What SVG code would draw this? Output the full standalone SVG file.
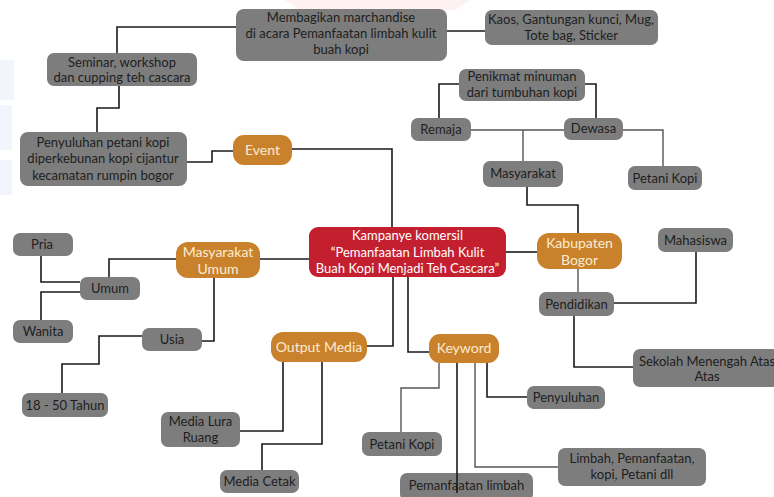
<svg xmlns="http://www.w3.org/2000/svg" width="774" height="497" viewBox="0 0 774 497">
<style>
.g{fill:#7d7d7d}
.o{fill:#c9822b}
.r{fill:#c41f2f}
text{font-family:Lato,"Liberation Sans",sans-serif;font-size:13px;text-anchor:middle}
.tg{fill:#1e1e1e}
.to{fill:#fbecd2;font-size:14px}
.tr{fill:#ffffff}
.c{fill:none;stroke:#1a1a1a;stroke-width:1.6}
.c2{fill:none;stroke:#555;stroke-width:1.4}
</style>
<rect width="774" height="497" fill="#ffffff"/>
<g id="bg" opacity="0.5">
<path d="M285,0 H470 L455,10 H300 Z" fill="#fbe3e3"/>
<rect x="0" y="60" width="14" height="40" fill="#e6eefb"/>
<rect x="0" y="105" width="12" height="45" fill="#e6eefb"/>
<rect x="0" y="160" width="12" height="35" fill="#e6eefb"/>
</g>
<g id="connectors">
<path class="c" d="M117,53 V27 H236"/>
<path class="c" d="M447,31 H485"/>
<path class="c" d="M119,86 V108 H97 V132"/>
<path class="c" d="M187,162 H212 V151 H233"/>
<path class="c" d="M292,149 H392 V227"/>
<path class="c" d="M459,84 H439 V118"/>
<path class="c" d="M585,84 H596 V118"/>
<path class="c2" d="M471,130 H564"/>
<path class="c2" d="M523,130 V161"/>
<path class="c2" d="M623,130 H663 V166"/>
<path class="c" d="M527,187 V205 H578 V233"/>
<path class="c" d="M506,252 H537"/>
<path class="c2" d="M578,269 V292"/>
<path class="c" d="M614,303 H696 V252"/>
<path class="c" d="M574,316 V367 H633"/>
<path class="c" d="M260,259 H309"/>
<path class="c" d="M176,259 H109 V277"/>
<path class="c" d="M41,256 V282 H80"/>
<path class="c" d="M41,320 V292 H80"/>
<path class="c" d="M214,278 V341 H202"/>
<path class="c" d="M142,336 H99 V364 H62 V393"/>
<path class="c" d="M393,277 V346 H367"/>
<path class="c" d="M408,277 V352 H429"/>
<path class="c" d="M283,362 V431 H240"/>
<path class="c" d="M322,362 V444 H262 V470"/>
<path class="c2" d="M439,363 V388 H401 V432"/>
<path class="c2" d="M475,363 V467 H558"/>
<path class="c" d="M487,363 V397 H527"/>
</g>
<g id="membagikan"><rect class="g" x="236" y="9" width="211" height="52" rx="8"/><text class="tg" x="341" y="22">Membagikan marchandise</text><text class="tg" x="341" y="38">di acara Pemanfaatan limbah kulit</text><text class="tg" x="341" y="54">buah kopi</text></g>
<g id="kaos"><rect class="g" x="485" y="10" width="173" height="35" rx="7"/><text class="tg" x="571" y="24">Kaos, Gantungan kunci, Mug,</text><text class="tg" x="571" y="40">Tote bag, Sticker</text></g>
<g id="seminar"><rect class="g" x="47" y="53" width="150" height="33" rx="7"/><text class="tg" x="122" y="67">Seminar, workshop</text><text class="tg" x="122" y="82">dan cupping teh cascara</text></g>
<g id="penyuluhan-petani"><rect class="g" x="20" y="132" width="167" height="54" rx="8"/><text class="tg" x="103" y="147">Penyuluhan petani kopi</text><text class="tg" x="103" y="163">diperkebunan kopi cijantur</text><text class="tg" x="103" y="180">kecamatan rumpin bogor</text></g>
<g id="event"><rect class="o" x="233" y="135" width="59" height="30" rx="11"/><text class="to" x="262.5" y="155">Event</text></g>
<g id="penikmat"><rect class="g" x="459" y="69" width="126" height="32" rx="7"/><text class="tg" x="522" y="81">Penikmat minuman</text><text class="tg" x="522" y="97">dari tumbuhan kopi</text></g>
<g id="remaja"><rect class="g" x="411" y="118" width="60" height="23" rx="7"/><text class="tg" x="441" y="134">Remaja</text></g>
<g id="dewasa"><rect class="g" x="564" y="118" width="59" height="22" rx="7"/><text class="tg" x="593.5" y="133">Dewasa</text></g>
<g id="masyarakat"><rect class="g" x="483" y="161" width="80" height="26" rx="7"/><text class="tg" x="523" y="178">Masyarakat</text></g>
<g id="petani-kopi-1"><rect class="g" x="628" y="166" width="74" height="24" rx="7"/><text class="tg" x="665" y="183">Petani Kopi</text></g>
<g id="kampanye"><rect class="r" x="309" y="227" width="197" height="50" rx="9"/><text class="tr" x="407.5" y="240">Kampanye komersil</text><text class="tr" x="407.5" y="257">“Pemanfaatan Limbah Kulit</text><text class="tr" x="407.5" y="273">Buah Kopi Menjadi Teh Cascara”</text></g>
<g id="kabupaten"><rect class="o" x="537" y="233" width="85" height="36" rx="12"/><text class="to" x="579.5" y="248">Kabupaten</text><text class="to" x="579.5" y="265">Bogor</text></g>
<g id="mahasiswa"><rect class="g" x="658" y="228" width="75" height="24" rx="7"/><text class="tg" x="695.5" y="245">Mahasiswa</text></g>
<g id="pendidikan"><rect class="g" x="539" y="292" width="75" height="24" rx="7"/><text class="tg" x="576.5" y="309">Pendidikan</text></g>
<g id="sekolah"><rect class="g" x="633" y="349" width="152" height="38" rx="7"/><text class="tg" x="707" y="366">Sekolah Menengah Atas</text><text class="tg" x="707" y="381">Atas</text></g>
<g id="masyarakat-umum"><rect class="o" x="176" y="242" width="84" height="36" rx="12"/><text class="to" x="218" y="257">Masyarakat</text><text class="to" x="218" y="274">Umum</text></g>
<g id="pria"><rect class="g" x="13" y="233" width="60" height="23" rx="7"/><text class="tg" x="42" y="249">Pria</text></g>
<g id="umum"><rect class="g" x="80" y="277" width="60" height="23" rx="7"/><text class="tg" x="110" y="293">Umum</text></g>
<g id="wanita"><rect class="g" x="13" y="320" width="60" height="23" rx="7"/><text class="tg" x="43" y="336">Wanita</text></g>
<g id="usia"><rect class="g" x="142" y="328" width="60" height="23" rx="7"/><text class="tg" x="172" y="344">Usia</text></g>
<g id="tahun"><rect class="g" x="22" y="393" width="86" height="24" rx="7"/><text class="tg" x="65" y="410">18 - 50 Tahun</text></g>
<g id="output-media"><rect class="o" x="271" y="332" width="96" height="30" rx="12"/><text class="to" x="319" y="352">Output Media</text></g>
<g id="keyword"><rect class="o" x="429" y="334" width="70" height="29" rx="11"/><text class="to" x="464" y="353">Keyword</text></g>
<g id="media-lura"><rect class="g" x="161" y="412" width="79" height="35" rx="7"/><text class="tg" x="200.5" y="426">Media Lura</text><text class="tg" x="200.5" y="442">Ruang</text></g>
<g id="media-cetak"><rect class="g" x="220" y="470" width="79" height="23" rx="7"/><text class="tg" x="259.5" y="486">Media Cetak</text></g>
<g id="petani-kopi-2"><rect class="g" x="362" y="432" width="80" height="24" rx="7"/><text class="tg" x="402" y="449">Petani Kopi</text></g>
<g id="pemanfaatan-limbah"><rect class="g" x="400" y="473" width="133" height="28" rx="7"/><text class="tg" x="466.5" y="490">Pemanfaatan limbah</text></g>
<g id="penyuluhan"><rect class="g" x="527" y="386" width="78" height="23" rx="7"/><text class="tg" x="566" y="402">Penyuluhan</text></g>
<g id="limbah"><rect class="g" x="558" y="448" width="148" height="38" rx="7"/><text class="tg" x="632" y="463">Limbah, Pemanfaatan,</text><text class="tg" x="632" y="479">kopi, Petani dll</text></g>
<path class="c" d="M457,363 V493" id="keyword-pemanfaatan-line"/>
</svg>
